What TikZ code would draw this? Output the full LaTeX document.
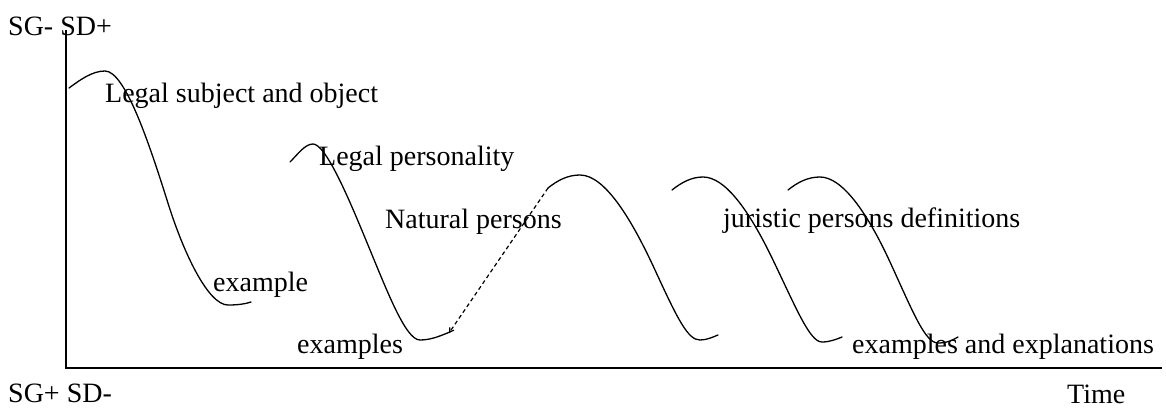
\documentclass[tikz,border=0pt]{standalone}
\usepackage{fontspec}
\setmainfont{Liberation Serif}
\usetikzlibrary{arrows.meta}
\begin{document}
\begin{tikzpicture}[x=1pt,y=-1pt,
  lbl/.style={anchor=base west,inner sep=0pt,font=\fontsize{28}{32}\selectfont},
  axisline/.style={line width=1.6pt},
  wave/.style={line width=1.3pt,line cap=round},
  dashlink/.style={line width=1.2pt,dash pattern=on 4pt off 3pt,-{Straight Barb[length=4pt,width=5pt]}}]
\useasboundingbox (0,0) rectangle (1166,407);
% axes
\coordinate (top) at (66,30);
\coordinate (origin) at (66,368);
\coordinate (right) at (1162,368);
\draw[axisline] (top) -- (origin) -- (right);
% labels
\node[lbl] (sgsdp) at (8,35) {SG- SD+};
\node[lbl] (sgsdm) at (8,402) {SG+ SD-};
\node[lbl] (time) at (1067,403) {Time};
\node[lbl] (lso) at (105,102) {Legal subject and object};
\node[lbl] (lp) at (319,165) {Legal personality};
\node[lbl] (np) at (385,228) {Natural persons};
\node[lbl] (ex1) at (213,291) {example};
\node[lbl] (ex2) at (297,353) {examples};
\node[lbl] (jpd) at (723,227) {juristic persons definitions};
\node[lbl] (exex) at (852,353) {examples and explanations};
% waves
\draw[wave] (69,88) .. controls (80,80) and (92,71) .. (105,71)
  .. controls (125,71) and (149,143) .. (167,200)
  .. controls (183,252) and (208,305) .. (228,305)
  .. controls (238,305) and (245,304) .. (251,302);
\draw[wave] (290,162) .. controls (298,154) and (305,144) .. (313,144)
  .. controls (325,144) and (346,192) .. (363,233)
  .. controls (386,288) and (405,340) .. (420,340)
  .. controls (432,340) and (442,335) .. (450,332);
\draw[wave] (548,188) .. controls (558,180) and (568,175) .. (580,175)
  .. controls (605,175) and (632,220) .. (655,270)
  .. controls (678,320) and (688,340) .. (700,340)
  .. controls (707,340) and (713,337) .. (718,335);
\draw[wave] (672,190) .. controls (682,182) and (692,177) .. (703,177)
  .. controls (725,177) and (749,210) .. (773,260)
  .. controls (797,310) and (810,342) .. (822,342)
  .. controls (830,342) and (837,339) .. (842,337);
\draw[wave] (788,190) .. controls (798,182) and (808,177) .. (820,177)
  .. controls (842,177) and (867,212) .. (890,262)
  .. controls (913,312) and (925,343) .. (938,343)
  .. controls (947,343) and (953,340) .. (958,337);
% dashed link
\coordinate (c3start) at (548,188);
\coordinate (c2end) at (449,333);
\draw[dashlink] (c3start) -- (c2end);
\end{tikzpicture}
\end{document}
